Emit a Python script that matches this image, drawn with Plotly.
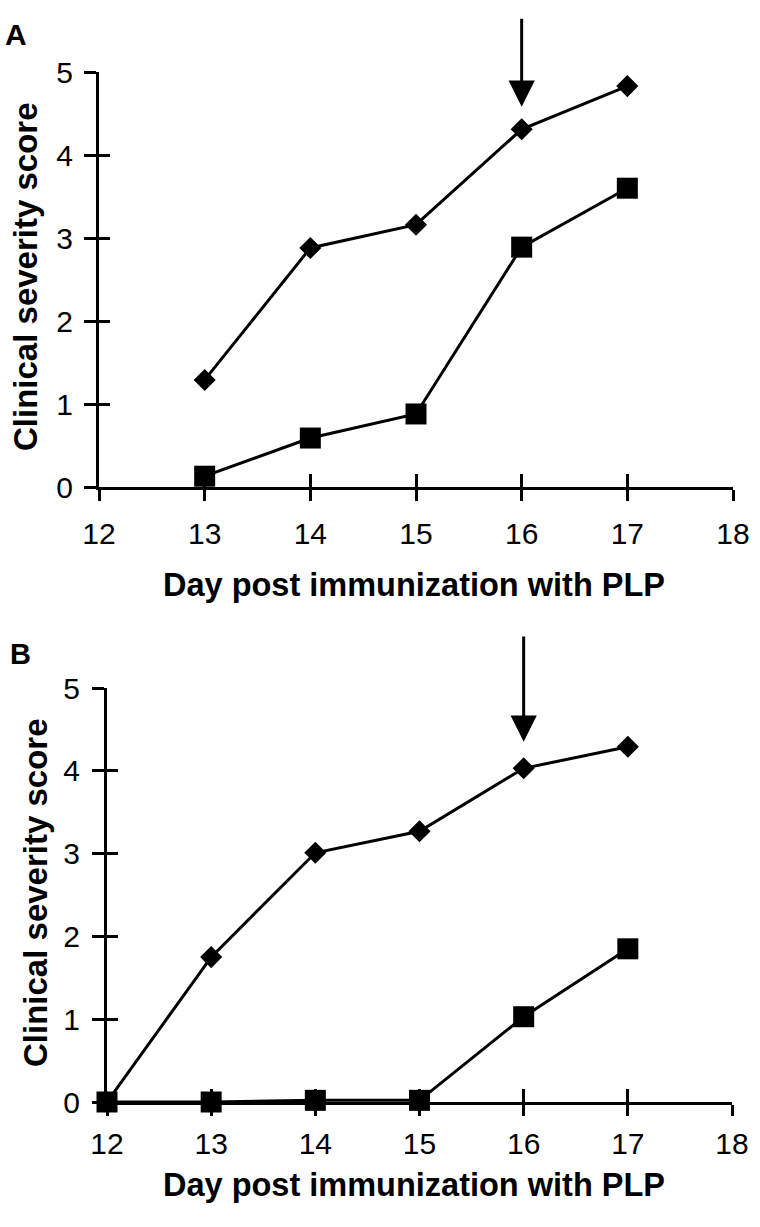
import plotly.graph_objects as go

# ---- data ----
days_a = [13, 14, 15, 16, 17]
diamond_a = [1.29, 2.88, 3.16, 4.31, 4.83]
square_a = [0.13, 0.59, 0.88, 2.89, 3.60]

days_b = [12, 13, 14, 15, 16, 17]
diamond_b = [0.0, 1.75, 3.01, 3.27, 4.03, 4.29]
square_b = [0.0, 0.0, 0.02, 0.02, 1.03, 1.85]

x_ticks = [12, 13, 14, 15, 16, 17, 18]
y_ticks = [0, 1, 2, 3, 4, 5]
arrow_day = 16
arrow_a = (4.58, 5.66)   # tip, tail (score units)
arrow_b = (4.35, 5.64)

x_title = "Day post immunization with PLP"
y_title = "Clinical severity score"

FONT = "Liberation Sans, Arial, Helvetica, sans-serif"
W, H = 760, 1227

fig = go.Figure()

def add_series(x, y, xa, ya, symbol, size):
    fig.add_trace(go.Scatter(
        x=x, y=y, xaxis=xa, yaxis=ya, mode="lines+markers",
        line=dict(color="black", width=3),
        marker=dict(symbol=symbol, size=size, color="black"),
        cliponaxis=False, showlegend=False, hoverinfo="skip"))

add_series(days_a, square_a, "x", "y", "square", 21)
add_series(days_a, diamond_a, "x", "y", "diamond", 17)
add_series(days_b, diamond_b, "x2", "y2", "diamond", 17)
add_series(days_b, square_b, "x2", "y2", "square", 21)

# panel domains (paper fractions)
dom_a_x = [99 / W, 733 / W]
dom_a_y = [1 - 487 / H, 1 - 72 / H]
dom_b_x = [107 / W, 732 / W]
dom_b_y = [1 - 1102 / H, 1 - 688 / H]

tickfont = dict(family=FONT, size=30, color="black")

def xaxis(dom, anchor, ticks, ticklen, labels=True, overlay=None, standoff=0):
    d = dict(domain=dom, anchor=anchor, range=[12, 18], tickmode="array",
             tickvals=x_ticks, ticktext=[str(v) for v in x_ticks],
             ticks=ticks, ticklen=ticklen, tickwidth=3, tickcolor="black",
             showticklabels=labels, tickfont=tickfont, ticklabelstandoff=standoff,
             showgrid=False, zeroline=False, fixedrange=True, automargin=False)
    if overlay:
        d.update(overlaying=overlay, showline=False)
    else:
        d.update(showline=True, linewidth=3, linecolor="black")
    return d

def yaxis(dom, anchor, ticks, ticklen, labels=True, overlay=None, standoff=0):
    d = dict(domain=dom, anchor=anchor, range=[0, 5], tickmode="array",
             tickvals=y_ticks, ticktext=[str(v) for v in y_ticks],
             ticks=ticks, ticklen=ticklen, tickwidth=3, tickcolor="black",
             showticklabels=labels, tickfont=tickfont, side="left",
             ticklabelstandoff=standoff,
             showgrid=False, zeroline=False, fixedrange=True, automargin=False)
    if overlay:
        d.update(overlaying=overlay, showline=False)
    else:
        d.update(showline=True, linewidth=3, linecolor="black")
    return d

fig.update_layout(
    width=W, height=H, margin=dict(l=0, r=0, t=0, b=0, autoexpand=False),
    paper_bgcolor="white", plot_bgcolor="rgba(0,0,0,0)",
    xaxis=xaxis(dom_a_x, "y", "outside", 11, standoff=7),
    yaxis=yaxis(dom_a_y, "x", "outside", 12, standoff=5),
    xaxis2=xaxis(dom_b_x, "y2", "outside", 11, standoff=2),
    yaxis2=yaxis(dom_b_y, "x2", "outside", 12, standoff=6),
    xaxis3=xaxis(dom_a_x, "y", "inside", 13, False, "x"),
    yaxis3=yaxis(dom_a_y, "x", "inside", 11, False, "y"),
    xaxis4=xaxis(dom_b_x, "y2", "inside", 13, False, "x2"),
    yaxis4=yaxis(dom_b_y, "x2", "inside", 11, False, "y2"),
)

# empty traces so the overlay axes are drawn
fig.add_trace(go.Scatter(x=[], y=[], xaxis="x3", yaxis="y3", showlegend=False))
fig.add_trace(go.Scatter(x=[], y=[], xaxis="x4", yaxis="y4", showlegend=False))

bold = dict(family=FONT, color="black", weight="bold")

ann = []
# panel letters
ann.append(dict(text="A", x=3 / W, y=1 - 35 / H, xref="paper", yref="paper",
                xanchor="left", yanchor="middle", showarrow=False,
                font=dict(size=30, **bold)))
ann.append(dict(text="B", x=8 / W, y=1 - 654 / H, xref="paper", yref="paper",
                xanchor="left", yanchor="middle", showarrow=False,
                font=dict(size=29, **bold)))
# x titles
for yc in (585, 1185):
    ann.append(dict(text=x_title, x=414 / W, y=1 - yc / H, xref="paper", yref="paper",
                    xanchor="center", yanchor="middle", showarrow=False,
                    font=dict(size=32.5, **bold)))
# y titles
for xc, yc in ((25, 277), (35, 893)):
    ann.append(dict(text=y_title, x=xc / W, y=1 - yc / H, xref="paper", yref="paper",
                    xanchor="center", yanchor="middle", textangle=-90, showarrow=False,
                    font=dict(size=33, **bold)))
# arrows
for xr, yr, (tip, tail) in (("x", "y", arrow_a), ("x2", "y2", arrow_b)):
    ann.append(dict(text="", x=arrow_day, y=tip, xref=xr, yref=yr,
                    ax=arrow_day, ay=tail, axref=xr, ayref=yr,
                    showarrow=True, arrowhead=2, arrowsize=1.75, arrowwidth=3,
                    arrowcolor="black", standoff=0))

fig.update_layout(annotations=ann)
fig.write_html("out.html", config={"displayModeBar": False, "staticPlot": True},
               post_script="document.body.style.margin='0px';")
